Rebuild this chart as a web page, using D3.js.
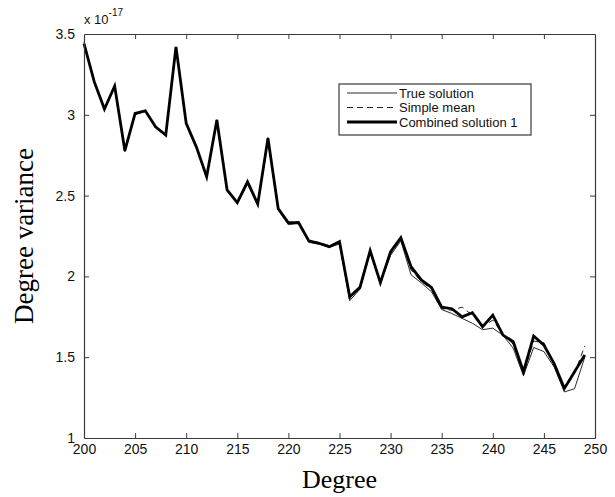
<!DOCTYPE html>
<html>
<head>
<meta charset="utf-8">
<script src="https://cdn.jsdelivr.net/npm/d3@7"></script>
<style>
  body { margin: 0; background: #fff; }
  text { font-family: "Liberation Sans", Arial, sans-serif; }
</style>
</head>
<body>
<div id="chart"></div>
<script>
var width = 615,
  height = 497;

var margin = { top: 34, right: 20, bottom: 59, left: 84 };

// degree 200..249
var degrees = d3.range(200, 250);

var trueSolution = [3.44, 3.20, 3.03, 3.17, 2.77, 3.00, 3.02, 2.92, 2.87, 3.41,
  2.94, 2.80, 2.61, 2.96, 2.53, 2.45, 2.57, 2.44, 2.84, 2.41,
  2.32, 2.33, 2.21, 2.20, 2.18, 2.20, 1.85, 1.92, 2.15, 1.96,
  2.13, 2.22, 2.01, 1.96, 1.905, 1.795, 1.77, 1.74, 1.71, 1.67,
  1.68, 1.635, 1.555, 1.385, 1.56, 1.535, 1.44, 1.285, 1.305, 1.50];

var simpleMean = [3.45, 3.21, 3.04, 3.18, 2.78, 3.01, 3.02, 2.93, 2.87, 3.42,
  2.95, 2.80, 2.62, 2.97, 2.54, 2.46, 2.59, 2.45, 2.86, 2.42,
  2.33, 2.34, 2.22, 2.21, 2.19, 2.21, 1.86, 1.93, 2.16, 1.96,
  2.14, 2.23, 2.04, 1.97, 1.92, 1.80, 1.79, 1.81, 1.76, 1.69,
  1.73, 1.64, 1.58, 1.40, 1.60, 1.59, 1.46, 1.30, 1.40, 1.57];

var combined1 = [3.44, 3.205, 3.036, 3.178, 2.778, 3.009, 3.025, 2.926, 2.875, 3.42,
  2.947, 2.80, 2.617, 2.968, 2.535, 2.456, 2.586, 2.448, 2.855, 2.42,
  2.332, 2.332, 2.22, 2.205, 2.184, 2.215, 1.874, 1.932, 2.159, 1.961,
  2.153, 2.24, 2.06, 1.978, 1.932, 1.81, 1.80, 1.75, 1.775, 1.689,
  1.76, 1.637, 1.596, 1.41, 1.631, 1.575, 1.46, 1.307, 1.41, 1.514];

var xTicks = [200, 205, 210, 215, 220, 225, 230, 235, 240, 245, 250];
var yTicks = [1, 1.5, 2, 2.5, 3, 3.5];

var seriesNames = ["True solution", "Simple mean", "Combined solution 1"];

var series = [
  { name: seriesNames[0], values: trueSolution, width: 1, dash: null, color: "#2a2a2a" },
  { name: seriesNames[1], values: simpleMean, width: 1, dash: "6,4", color: "#222" },
  { name: seriesNames[2], values: combined1, width: 2.8, dash: null, color: "#000" }
];

var svg = d3.select("#chart").append("svg")
  .attr("width", width)
  .attr("height", height);

var pw = 511, ph = 404;
var x = d3.scaleLinear().domain([200, 250]).range([0, pw]);
var y = d3.scaleLinear().domain([1, 3.5]).range([ph, 0]);

var g = svg.append("g")
  .attr("transform", "translate(" + margin.left + "," + margin.top + ")");

var line = d3.line()
  .x(function (d, i) { return x(degrees[i]); })
  .y(function (d) { return y(d); });

g.selectAll(".series").data(series).enter().append("path")
  .attr("class", "series")
  .attr("d", function (d) { return line(d.values); })
  .attr("fill", "none")
  .attr("stroke", function (d) { return d.color; })
  .attr("stroke-width", function (d) { return d.width; })
  .attr("stroke-dasharray", function (d) { return d.dash; })
  .attr("stroke-linejoin", "miter");

// axes, ticks pointing inward on all four sides
var axisColor = "#3a3a3a";
var fmt = function (d) { return String(d); };

var xb = g.append("g").attr("transform", "translate(0," + ph + ")")
  .call(d3.axisBottom(x).tickValues(xTicks).tickFormat(fmt).tickSizeInner(-5).tickSizeOuter(0).tickPadding(6));
var xt = g.append("g")
  .call(d3.axisTop(x).tickValues(xTicks).tickFormat("").tickSizeInner(-5).tickSizeOuter(0));
var yl = g.append("g")
  .call(d3.axisLeft(y).tickValues(yTicks).tickFormat(fmt).tickSizeInner(-5).tickSizeOuter(0).tickPadding(9));
var yr = g.append("g").attr("transform", "translate(" + pw + ",0)")
  .call(d3.axisRight(y).tickValues(yTicks).tickFormat("").tickSizeInner(-5).tickSizeOuter(0));

[xb, xt, yl, yr].forEach(function (a) {
  a.select(".domain").attr("stroke", axisColor).attr("stroke-width", 1.2);
  a.selectAll(".tick line").attr("stroke", axisColor);
  a.selectAll(".tick text").attr("fill", "#111")
    .style("font-family", "'Liberation Sans', Arial, sans-serif")
    .style("font-size", "14px");
});
// no tick marks at the corners
xb.selectAll(".tick line").filter(function (d) { return d === 200 || d === 250; }).remove();
xt.selectAll(".tick line").filter(function (d) { return d === 200 || d === 250; }).remove();
yl.selectAll(".tick line").filter(function (d) { return d === 1 || d === 3.5; }).remove();
yr.selectAll(".tick line").filter(function (d) { return d === 1 || d === 3.5; }).remove();

// exponent label
var ex = g.append("text")
  .attr("x", 0)
  .attr("y", -10)
  .style("font-size", "13px")
  .attr("fill", "#111");
ex.append("tspan").text("x 10");
ex.append("tspan").attr("dy", -8).style("font-size", "10px").text("-17");

// axis titles
svg.append("text")
  .attr("x", margin.left + pw / 2)
  .attr("y", 488)
  .attr("text-anchor", "middle")
  .style("font-family", "'Liberation Serif', 'Times New Roman', serif")
  .style("font-size", "26px")
  .text("Degree");

svg.append("text")
  .attr("transform", "translate(33," + (margin.top + ph / 2) + ")rotate(-90)")
  .attr("text-anchor", "middle")
  .style("font-family", "'Liberation Serif', 'Times New Roman', serif")
  .style("font-size", "27px")
  .text("Degree variance");

// legend
var legend = svg.append("g").attr("transform", "translate(339,84)");
legend.append("rect")
  .attr("width", 192).attr("height", 51)
  .attr("fill", "#fff")
  .attr("stroke", axisColor)
  .attr("stroke-width", 1.2);

var item = legend.selectAll(".item").data(series).enter().append("g")
  .attr("class", "item")
  .attr("transform", function (d, i) { return "translate(0," + (9 + i * 14.5) + ")"; });

item.append("line")
  .attr("x1", 8).attr("x2", 58)
  .attr("stroke", function (d) { return d.color; })
  .attr("stroke-width", function (d) { return d.width; })
  .attr("stroke-dasharray", function (d) { return d.dash; });

item.append("text")
  .attr("x", 60)
  .attr("dy", "0.36em")
  .style("font-size", "13px")
  .attr("fill", "#111")
  .text(function (d) { return d.name; });
</script>
</body>
</html>
